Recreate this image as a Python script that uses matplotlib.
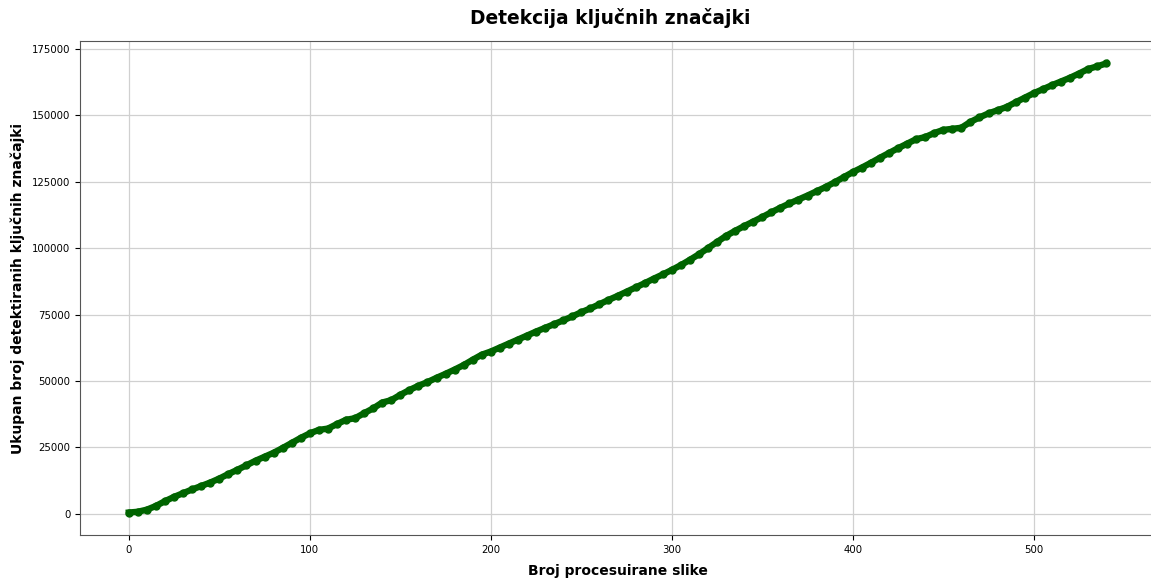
import matplotlib
matplotlib.use("Agg")
import matplotlib.pyplot as plt

# broj slike (svaka peta) i ukupan broj kljucnih znacajki do te slike
frames = list(range(0, 541, 5))
total_keypoints = [
    500, 800, 1600, 3000, 4800, 6400, 7800, 9200, 10500, 11800,
    13300, 15000, 16600, 18300, 20000, 21500, 23000, 24800, 26700, 28600,
    30300, 31600, 32100, 33800, 35400, 36000, 37900, 39700, 41900, 42800,
    44800, 46600, 48200, 49600, 51200, 52700, 54300, 56000, 58000, 59900,
    61100, 62600, 64100, 65600, 67100, 68600, 70000, 71400, 72800, 74300,
    75900, 77300, 78900, 80500, 82000, 83600, 85200, 86800, 88500, 90100,
    91800, 93600, 95600, 97700, 100000, 102300, 104600, 106500, 108300, 110000,
    111700, 113500, 115200, 116800, 118300, 119800, 121400, 123000, 124800, 126700,
    128600, 130300, 132100, 134000, 135800, 137600, 139300, 141000, 141800, 143300,
    144500, 144900, 145300, 147500, 149200, 150700, 151900, 153100, 154900, 156600,
    158300, 159800, 161300, 162700, 164100, 165700, 167400, 168400, 169500,
]

fig = plt.figure(figsize=(11.51, 5.81), dpi=100)
ax = fig.add_axes([80 / 1151, 46 / 581, 1075 / 1151, 494 / 581])

ax.plot(frames, total_keypoints, 'o-', color='#006400', linewidth=4.6, markersize=5)

ax.set_title('Detekcija ključnih značajki', fontsize=13.4, fontweight='bold', pad=12, x=0.493)
ax.set_xlabel('Broj procesuirane slike', fontsize=10, fontweight='bold', labelpad=7)
ax.set_ylabel('Ukupan broj detektiranih ključnih značajki', fontsize=10, fontweight='bold', labelpad=5)
ax.tick_params(labelsize=7.3)
ax.grid(True, color='#d0d0d0', linewidth=0.9)
for s in ax.spines.values():
    s.set_color('#555555')

fig.savefig('out.png', dpi=100)
